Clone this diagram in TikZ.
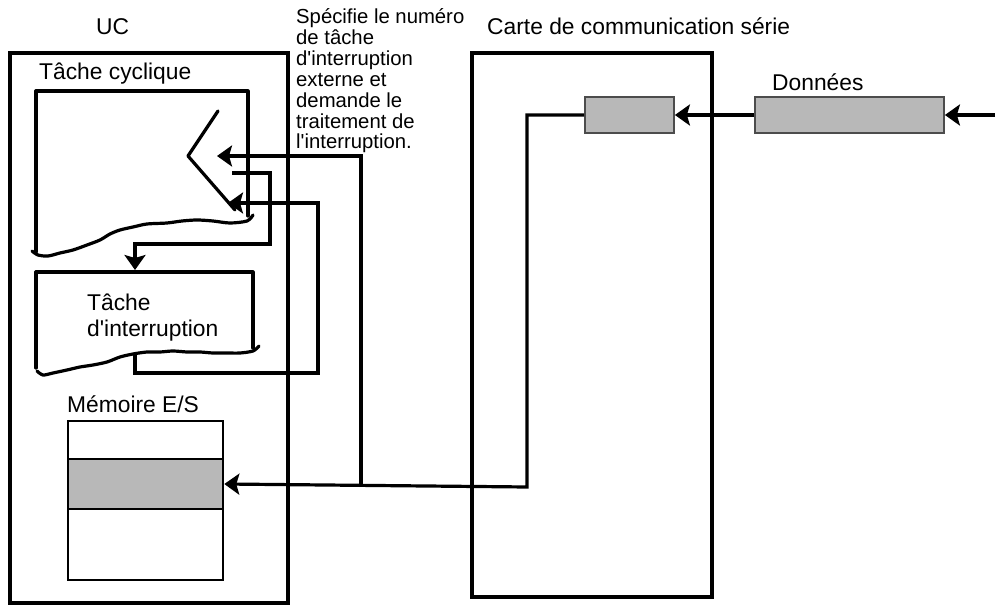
\documentclass[tikz,border=0pt]{standalone}
\usepackage{fontspec}
\setmainfont{Liberation Sans}[Ligatures=TeXOff]
\usetikzlibrary{arrows.meta}
\begin{document}
\begin{tikzpicture}[x=1pt,y=-1pt,
  box/.style={draw, line width=3.2pt, inner sep=0pt},
  graybox/.style={draw=black!70, fill=black!28, line width=1.8pt, inner sep=0pt},
  wire/.style={line width=3.2pt},
  arr/.style={wire, -{Stealth[length=15pt,width=21pt,inset=3pt]}},
  lbl/.style={font=\fontsize{22.8}{26}\selectfont, inner sep=0pt, anchor=base west},
  note/.style={font=\fontsize{20.3}{20.9}\selectfont, inner sep=0pt, anchor=base west, align=left},
  taskline/.style={line width=3.2pt, line join=round, line cap=round}
]
\useasboundingbox (0,0) rectangle (1001,609);

% frames
\node[box, minimum width=278pt, minimum height=550pt] (uc) at (149,328) {};
\node[box, minimum width=240pt, minimum height=544pt] (card) at (592,325) {};

% labels
\node[lbl] (uclbl) at (96,35) {UC};
\node[lbl] (cardlbl) at (487,35) {Carte de communication série};
\node[lbl] (cyclbl) at (39,80) {Tâche cyclique};
\node[lbl] (datalbl) at (772,91) {Données};
\node[lbl] (memlbl) at (67,412) {Mémoire E/S};
\node[lbl, align=left] (intlbl) at (87,337) {Tâche\\d'interruption};
\node[note] (note) at (296,149) {Spécifie le numéro\\de tâche\\d'interruption\\externe et\\demande le\\traitement de\\l'interruption.};

% gray data boxes
\node[graybox, minimum width=89pt, minimum height=36pt] (small) at (629.5,115) {};
\node[graybox, minimum width=189pt, minimum height=36pt] (data) at (849.5,115) {};

% memory
\node[box, line width=2.6pt, minimum width=155pt, minimum height=159pt] (mem) at (145.5,500.5) {};
\node[graybox, draw=black, line width=2.6pt, minimum width=155pt, minimum height=50pt] (memgray) at (145.5,484) {};

% cyclic task
\draw[taskline] (36,252) -- (36,91) -- (248,91) -- (248,216);
\draw[taskline] plot[smooth, tension=0.5] coordinates {(253,215) (247,221) (230,223) (213,221) (197,220) (182,221) (167,223) (147,224) (133,227) (120,230) (110,234) (100,240) (87,245) (73,250) (60,253) (48,256) (38,255) (32,251)};
\draw[taskline] (218,111) -- (188,156) -- (235,210);

% interrupt task
\draw[taskline] (36,368) -- (36,272) -- (253,272) -- (253,348);
\draw[taskline] plot[smooth, tension=0.5] coordinates {(259,346) (253,351) (240,353) (227,353) (213,353) (200,352) (187,352) (173,351) (160,352) (147,352) (133,354) (120,357) (107,362) (93,365) (80,367) (67,370) (53,373) (43,375) (37,371)};

% connector points
\coordinate (in) at (995,115);
\coordinate (j2) at (527,487);
\coordinate (j1) at (361,487);
\coordinate (t1) at (217,156);
\coordinate (s2) at (232,173);
\coordinate (b2) at (270,244);
\coordinate (itop) at (135,270);
\coordinate (ibot) at (135,353);
\coordinate (b3) at (318,373);
\coordinate (t3) at (228,203);

% connectors
\draw[arr] (in) -- (data.east);
\draw[arr] (data.west) -- (small.east);
\draw[arr] (small.west) -| (j2) -- (memgray.east);
\draw[arr] (j1) |- (t1);
\draw[arr] (s2) -| (b2) -| (itop);
\draw[arr] (ibot) |- (b3) |- (t3);
\end{tikzpicture}
\end{document}
